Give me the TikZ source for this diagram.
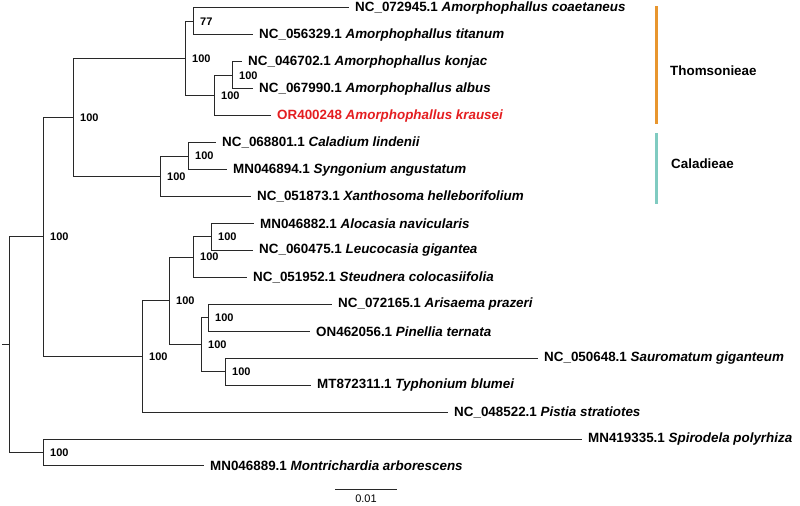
\documentclass[tikz,border=0pt]{standalone}
\usepackage{fontspec}
\setmainfont{Liberation Sans}
\usepackage{tikz}

\definecolor{krausered}{RGB}{228,30,32}
\definecolor{thomorange}{RGB}{232,150,46}
\definecolor{caladteal}{RGB}{128,203,193}
\definecolor{branchgray}{RGB}{40,40,40}

\tikzset{
  branch/.style={draw=branchgray,line width=1pt},
  tip/.style={anchor=west,inner xsep=6pt,inner ysep=0pt,
    font=\fontsize{13.4}{15}\selectfont\bfseries},
  bs/.style={anchor=west,inner sep=0pt,xshift=7pt,
    font=\fontsize{11}{12}\selectfont\bfseries},
  cladebar/.style={line width=3pt},
  cladename/.style={anchor=west,inner sep=0pt,
    font=\fontsize{13.4}{15}\selectfont\bfseries}
}

\begin{document}
\begin{tikzpicture}
  [x=1pt,y=-26.94pt]
  \useasboundingbox (0,-0.297) rectangle (800,18.449);

  % internal nodes
  \coordinate (stub) at (2,12.5);
  \coordinate (root) at (9,12.5);
  \coordinate (A) at (43,8.5);
  \coordinate (P) at (43,16.5);
  \coordinate (B) at (73,4.0625);
  \coordinate (C) at (185,1.875);
  \coordinate (D) at (193,0.5);
  \coordinate (E) at (214,3.25);
  \coordinate (F) at (232,2.5);
  \coordinate (G) at (160,6.25);
  \coordinate (H) at (188,5.5);
  \coordinate (I) at (142,12.9375);
  \coordinate (J) at (169,10.875);
  \coordinate (K) at (193,9.25);
  \coordinate (L) at (211,8.5);
  \coordinate (M) at (201,12.5);
  \coordinate (N) at (208,11.5);
  \coordinate (O) at (225,13.5);

  % tips
  \node[tip] (coae) at (349,0)  {NC\_072945.1 \textit{Amorphophallus coaetaneus}};
  \node[tip] (tita) at (253,1)  {NC\_056329.1 \textit{Amorphophallus titanum}};
  \node[tip] (konj) at (242,2)  {NC\_046702.1 \textit{Amorphophallus konjac}};
  \node[tip] (albu) at (253,3)  {NC\_067990.1 \textit{Amorphophallus albus}};
  \node[tip,text=krausered] (krau) at (271,4) {OR400248 \textit{Amorphophallus krausei}};
  \node[tip] (cala) at (216,5)  {NC\_068801.1 \textit{Caladium lindenii}};
  \node[tip] (syng) at (227,6)  {MN046894.1 \textit{Syngonium angustatum}};
  \node[tip] (xant) at (251,7)  {NC\_051873.1 \textit{Xanthosoma helleborifolium}};
  \node[tip] (aloc) at (254,8)  {MN046882.1 \textit{Alocasia navicularis}};
  \node[tip] (leuc) at (253,9)  {NC\_060475.1 \textit{Leucocasia gigantea}};
  \node[tip] (steu) at (247,10) {NC\_051952.1 \textit{Steudnera colocasiifolia}};
  \node[tip] (aris) at (332,11) {NC\_072165.1 \textit{Arisaema prazeri}};
  \node[tip] (pine) at (310,12) {ON462056.1 \textit{Pinellia ternata}};
  \node[tip] (saur) at (538,13) {NC\_050648.1 \textit{Sauromatum giganteum}};
  \node[tip] (typh) at (311,14) {MT872311.1 \textit{Typhonium blumei}};
  \node[tip] (pist) at (448,15) {NC\_048522.1 \textit{Pistia stratiotes}};
  \node[tip] (spir) at (582,16) {MN419335.1 \textit{Spirodela polyrhiza}};
  \node[tip] (mont) at (204,17) {MN046889.1 \textit{Montrichardia arborescens}};

  % branches
  \draw[branch] (stub) -- (root);
  \foreach \from/\to in {root/A,root/P,A/B,A/I,B/C,B/G,C/D,C/E,D/coae,D/tita,
      E/F,E/krau,F/konj,F/albu,G/H,G/xant,H/cala,H/syng,I/J,I/pist,J/K,J/M,
      K/L,K/steu,L/aloc,L/leuc,M/N,M/O,N/aris,N/pine,O/saur,O/typh,P/spir,P/mont}
    \draw[branch] (\from) |- (\to);

  % bootstrap values
  \foreach \n/\v in {A/100,P/100,B/100,C/100,D/77,E/100,F/100,G/100,H/100,
      I/100,J/100,K/100,L/100,M/100,N/100,O/100}
    \node[bs] (bs\n) at (\n) {\v};

  % clades
  \coordinate (thomTop) at (656,-0.07);
  \coordinate (thomBot) at (656,4.31);
  \coordinate (caladTop) at (656,4.64);
  \coordinate (caladBot) at (656,7.28);
  \draw[cladebar,thomorange] (thomTop) -- (thomBot);
  \draw[cladebar,caladteal] (caladTop) -- (caladBot);
  \node[cladename] (thom) at (670,2.34) {Thomsonieae};
  \node[cladename] (calad) at (671,5.79) {Caladieae};

  % scale bar
  \coordinate (scaleL) at (335,17.855);
  \coordinate (scaleR) at (397,17.855);
  \draw[branch] (scaleL) -- (scaleR);
  \node[inner sep=0pt,font=\fontsize{11}{12}\selectfont] (scalelab)
    at (366,18.22) {0.01};
\end{tikzpicture}
\end{document}
